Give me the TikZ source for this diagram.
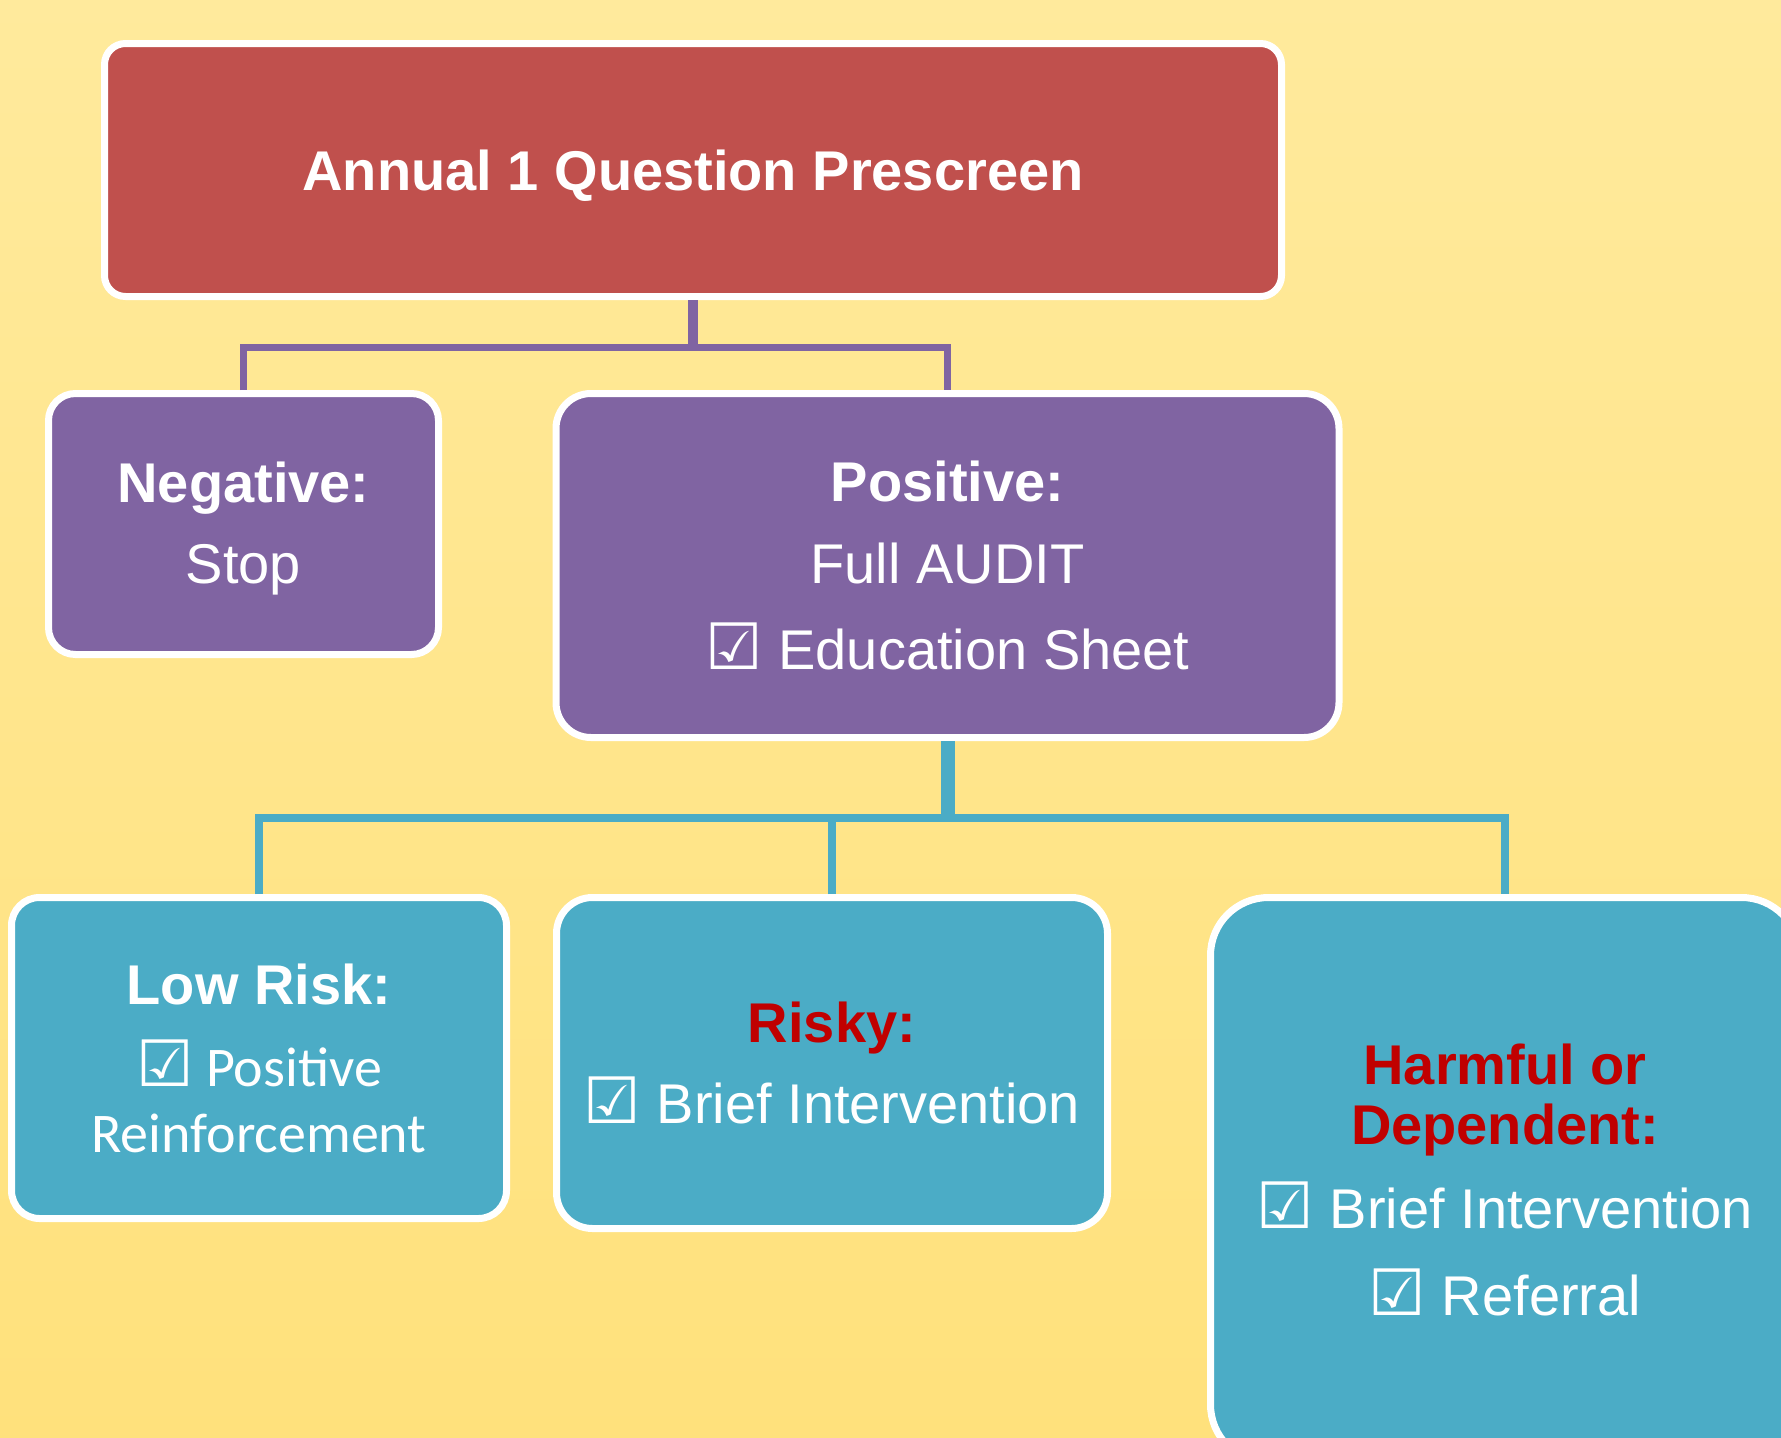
\documentclass[tikz,border=0pt]{standalone}
\usepackage{fontspec}
\setmainfont{Liberation Sans}
\newfontfamily\calibri{Carlito}
\newfontfamily\symfont{DejaVu Sans}
\usepackage{xcolor}
\usepackage{tikz}
\usetikzlibrary{positioning}

\definecolor{bgtop}{HTML}{FFEA9C}
\definecolor{bgbottom}{HTML}{FFE17C}
\definecolor{redfill}{HTML}{C0504D}
\definecolor{purplefill}{HTML}{8064A2}
\definecolor{tealfill}{HTML}{4BACC6}
\definecolor{riskred}{HTML}{C00000}

\newcommand{\tickbox}{{\symfont\fontsize{64}{60}\selectfont ☑}}

\begin{document}
\begin{tikzpicture}[
    x=1pt, y=-1pt,
    box/.style={rectangle, draw=white, line width=7pt, text=white, align=center, inner sep=0pt,
                font=\fontsize{56}{60}\selectfont},
    topbox/.style={box, fill=redfill, rounded corners=21pt},
    midbox/.style={box, fill=purplefill},
    lowbox/.style={box, fill=tealfill},
    purplelink/.style={draw, purplefill, line width=7pt},
    teallink/.style={draw, tealfill, line width=8pt}
]

    % Background
    \shade [top color=bgtop, bottom color=bgbottom] (0,0) rectangle (1781,1438);
    \useasboundingbox (0,0) rectangle (1781,1438);

    % Nodes
    % Top level
    \node [topbox, minimum width=1177, minimum height=253] (prescreen) at (693,170)
        {\rule{0pt}{52pt}\textbf{Annual 1 Question Prescreen}};

    % Second level
    \node [midbox, rounded corners=27pt, minimum width=390, minimum height=261] (negative) at (243.5,524)
        {\rule{0pt}{49pt}\textbf{Negative:}\\[21pt] Stop};
    \node [midbox, rounded corners=35pt, minimum width=783, minimum height=344] (positive) at (947.5,565.5)
        {\textbf{Positive:}\\[22pt] Full AUDIT\\[26pt] \tickbox\ Education Sheet};

    % Third level
    \node [lowbox, rounded corners=28pt, minimum width=495, minimum height=321] (lowrisk) at (259,1058)
        {\textbf{Low Risk:}\\[22pt] {\calibri\tickbox\ Positive}\\[6pt] {\calibri Reinforcement}};
    \node [lowbox, rounded corners=36pt, minimum width=551, minimum height=331] (risky) at (832,1063)
        {\textcolor{riskred}{\textbf{Risky:}}\\[21pt] \tickbox\ Brief Intervention};
    \node [lowbox, rounded corners=58pt, minimum width=589, minimum height=565] (harmful) at (1505,1180)
        {\textcolor{riskred}{\textbf{Harmful or}}\\ \textcolor{riskred}{\textbf{Dependent:}}\\[24pt]
         \tickbox\ Brief Intervention\\[27pt] \tickbox\ Referral};

    % Connections
    % Prescreen to Negative / Positive
    \draw [purplelink, line width=10pt] (prescreen.south) -- ++(0,47.5) coordinate (split1);
    \draw [purplelink] (negative.north) |- (split1) -| (positive.north);

    % Positive to the three risk levels
    \draw [teallink, line width=14pt] (positive.south) -- ++(0,77) coordinate (split2);
    \draw [teallink] (lowrisk.north) |- (split2) -| (harmful.north);
    \draw [teallink] (risky.north) -- (risky.north |- split2);

\end{tikzpicture}
\end{document}
